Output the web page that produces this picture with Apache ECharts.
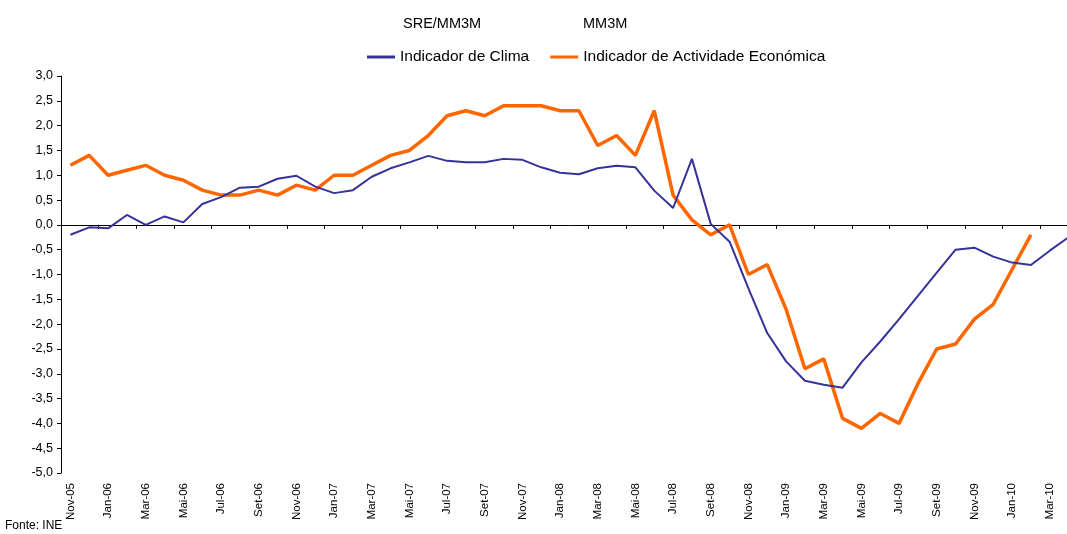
<!DOCTYPE html>
<html>
<head>
<meta charset="utf-8">
<script src="https://cdn.jsdelivr.net/npm/echarts@6/dist/echarts.min.js"></script>
<style>
html, body { margin: 0; padding: 0; background: #fff; overflow: hidden; }
/* o gráfico original está cortado à direita: o contentor é mais largo que a janela */
#container { width: 1080px; height: 534px; }
</style>
</head>
<body>
<div id="container"></div>
<script>
// meses (Nov-05 a Abr-10)
var meses = [
    'Nov-05', 'Dez-05',
    'Jan-06', 'Fev-06', 'Mar-06', 'Abr-06', 'Mai-06', 'Jun-06', 'Jul-06', 'Ago-06', 'Set-06', 'Out-06', 'Nov-06', 'Dez-06',
    'Jan-07', 'Fev-07', 'Mar-07', 'Abr-07', 'Mai-07', 'Jun-07', 'Jul-07', 'Ago-07', 'Set-07', 'Out-07', 'Nov-07', 'Dez-07',
    'Jan-08', 'Fev-08', 'Mar-08', 'Abr-08', 'Mai-08', 'Jun-08', 'Jul-08', 'Ago-08', 'Set-08', 'Out-08', 'Nov-08', 'Dez-08',
    'Jan-09', 'Fev-09', 'Mar-09', 'Abr-09', 'Mai-09', 'Jun-09', 'Jul-09', 'Ago-09', 'Set-09', 'Out-09', 'Nov-09', 'Dez-09',
    'Jan-10', 'Fev-10', 'Mar-10', 'Abr-10'
];

// Indicador de Clima (SRE/MM3M)
var clima = [
    -0.2, -0.05,
    -0.07, 0.2, 0.0, 0.17, 0.05, 0.42, 0.56, 0.75, 0.77, 0.93, 0.99, 0.77,
    0.64, 0.7, 0.97, 1.14, 1.26, 1.39, 1.29, 1.26, 1.26, 1.33, 1.31, 1.16,
    1.05, 1.02, 1.14, 1.19, 1.16, 0.69, 0.34, 1.33, 0.02, -0.34, -1.28, -2.18,
    -2.75, -3.14, -3.22, -3.28, -2.77, -2.35, -1.9, -1.43, -0.96, -0.5, -0.46, -0.64,
    -0.76, -0.81, -0.52, -0.25
];

// Indicador de Actividade Económica (MM3M)
var actividade = [
    1.2, 1.4,
    1.0, 1.1, 1.2, 1.0, 0.9, 0.7, 0.6, 0.6, 0.7, 0.6, 0.8, 0.7,
    1.0, 1.0, 1.2, 1.4, 1.5, 1.8, 2.2, 2.3, 2.2, 2.4, 2.4, 2.4,
    2.3, 2.3, 1.6, 1.8, 1.4, 2.3, 0.6, 0.1, -0.2, 0.0, -1.0, -0.8,
    -1.7, -2.9, -2.7, -3.9, -4.1, -3.8, -4.0, -3.2, -2.5, -2.4, -1.9, -1.6,
    -0.9, -0.2, null, null
];

var fonte = "'Liberation Sans', Arial, sans-serif";

var myChart = echarts.init(document.getElementById('container'));

var option = {
    animation: false,
    backgroundColor: '#fff',
    textStyle: { fontFamily: fonte },
    graphic: [
        { type: 'text', left: 403, top: 16, style: { text: 'SRE/MM3M', fontSize: 14.5, fontFamily: fonte, fill: '#000' } },
        { type: 'text', left: 583, top: 16, style: { text: 'MM3M', fontSize: 14.5, fontFamily: fonte, fill: '#000' } },
        { type: 'text', left: 5, top: 520, style: { text: 'Fonte: INE', fontSize: 12, fontFamily: fonte, fill: '#000' } }
    ],
    legend: {
        left: 362,
        top: 44,
        itemWidth: 28,
        itemHeight: 3,
        itemGap: 21,
        textStyle: { fontSize: 15.5, color: '#000', fontFamily: fonte },
        data: [
            { name: 'Indicador de Clima', icon: 'rect' },
            { name: 'Indicador de Actividade Económica', icon: 'rect' }
        ]
    },
    grid: {
        left: 61,
        top: 76,
        width: 1017,
        height: 397
    },
    xAxis: [
        {
            type: 'category',
            data: meses,
            position: 'bottom',
            boundaryGap: true,
            axisLine: { show: false, onZero: false },
            axisTick: { show: false },
            axisLabel: {
                interval: 1,
                rotate: 90,
                margin: 10,
                fontSize: 11.5,
                color: '#000',
                fontFamily: fonte
            },
            splitLine: { show: false }
        },
        {
            type: 'category',
            data: meses,
            position: 'top',
            boundaryGap: true,
            axisLine: { show: true, onZero: true, lineStyle: { color: '#000', width: 1 } },
            axisTick: { show: true, interval: 1, inside: true, length: 4, lineStyle: { color: '#000' } },
            axisLabel: { show: false },
            splitLine: { show: false }
        }
    ],
    yAxis: {
        type: 'value',
        min: -5,
        max: 3,
        interval: 0.5,
        axisLine: { show: true, lineStyle: { color: '#000', width: 1 } },
        axisTick: { show: true, length: 4, lineStyle: { color: '#000' } },
        axisLabel: {
            margin: 8,
            fontSize: 12.5,
            color: '#000',
            fontFamily: fonte,
            formatter: function (v) { return v.toFixed(1).replace('.', ','); }
        },
        splitLine: { show: false }
    },
    series: [
        {
            name: 'Indicador de Clima',
            type: 'line',
            data: clima,
            symbol: 'none',
            lineStyle: { color: '#333399', width: 2 },
            itemStyle: { color: '#333399' },
            z: 3
        },
        {
            name: 'Indicador de Actividade Económica',
            type: 'line',
            data: actividade,
            symbol: 'none',
            lineStyle: { color: '#FF6600', width: 3.5 },
            itemStyle: { color: '#FF6600' },
            z: 2
        }
    ]
};

myChart.setOption(option);
</script>
</body>
</html>
